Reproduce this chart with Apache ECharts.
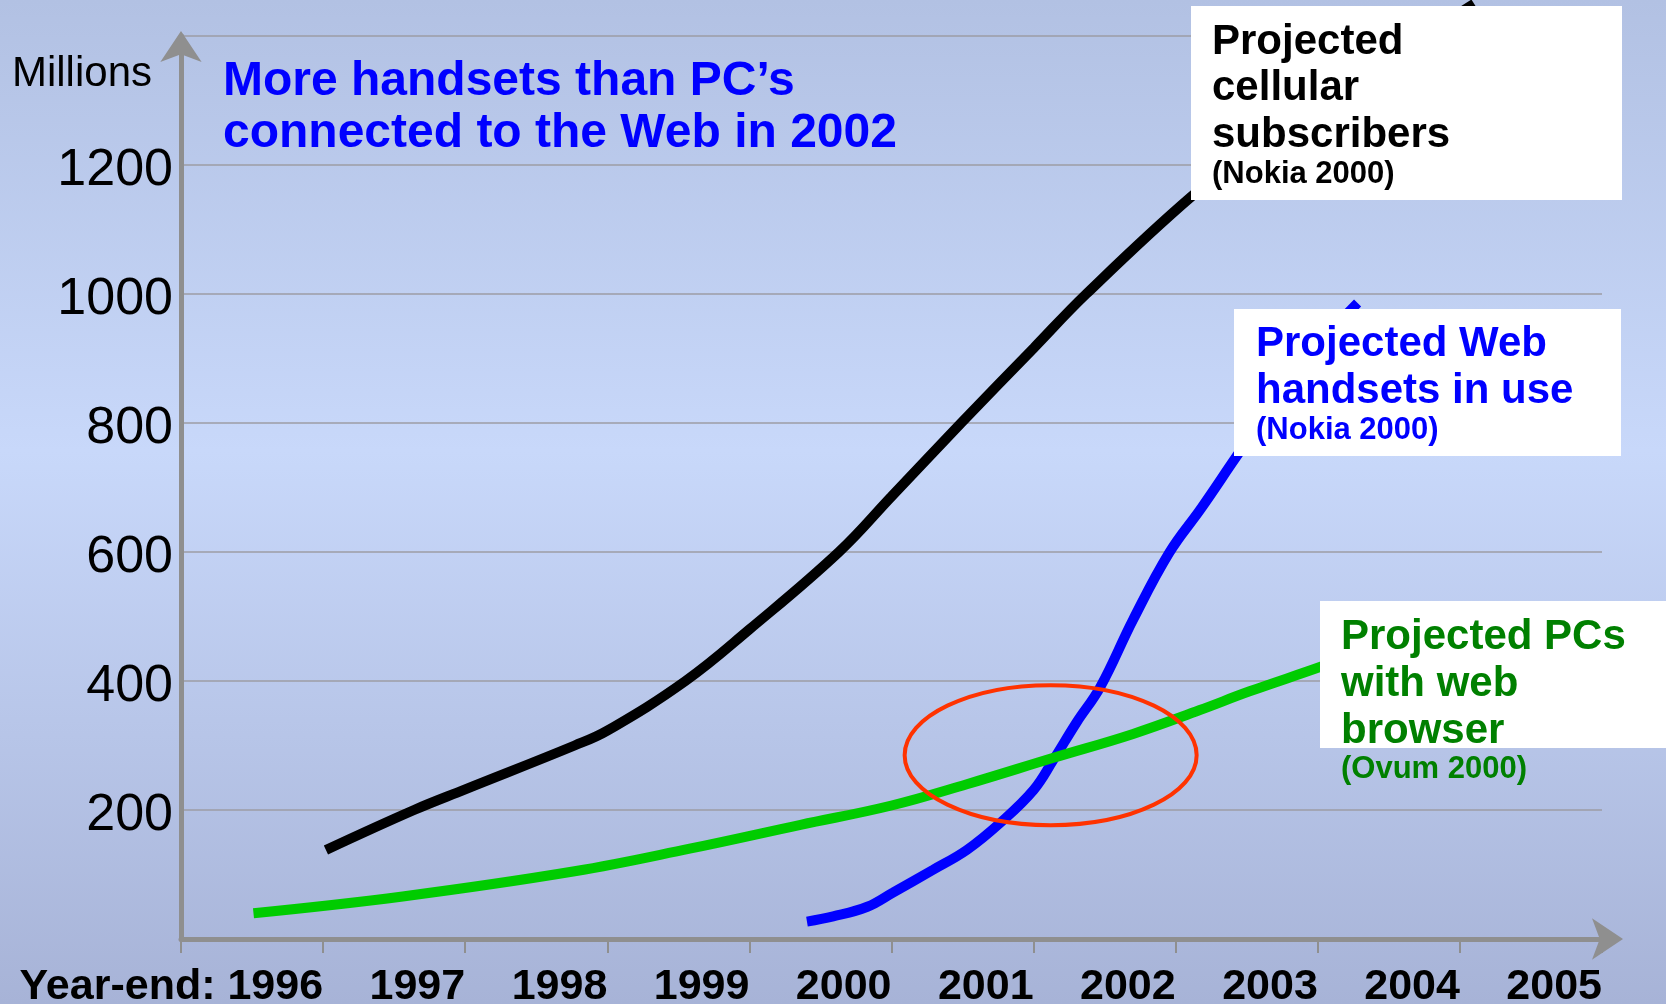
<!DOCTYPE html>
<html><head><meta charset="utf-8">
<script src="https://cdn.jsdelivr.net/npm/echarts@6/dist/echarts.min.js"></script>
<style>html,body{margin:0;padding:0;background:#fff}#c{width:1666px;height:1004px}</style>
</head><body><div id="c"></div>
<script>
// ---- data ----
const yearMin = 1995, yearMax = 2005;
const firstLabelPrefix = 'Year-end: ';
const yLabelValues = [200, 400, 600, 800, 1000, 1200];

const cellYears = [1996.02, 1996.64, 1997.0, 1997.77, 1998.0, 1998.55, 1999.0, 1999.63, 2000.0, 2000.49, 2001.0, 2001.37, 2002.11, 2002.5, 2003.0, 2003.5, 2004.1];
const cellValues = [138, 200, 232, 300, 323, 400, 480, 600, 686, 800, 916, 1000, 1151, 1215, 1290, 1365, 1450];

const webYears = [1999.405, 1999.59, 1999.83, 2000.01, 2000.29, 2000.53, 2000.765, 2001.0, 2001.14, 2001.30, 2001.47, 2001.70, 2001.955, 2002.18, 2002.44, 2002.75, 2003.0, 2003.28];
const webValues = [27, 35, 50, 72, 107, 138, 180, 231, 278, 335, 391, 495, 599, 668, 752, 850, 920, 986];

const pcYears = [1995.51, 1996.56, 1997.77, 1998.58, 1999.36, 2000.0, 2000.53, 2001.14, 2001.70, 2002.17, 2002.52, 2003.02, 2003.3];
const pcValues = [40, 66, 105, 140, 177, 207, 240, 281, 318, 355, 384, 422, 445];

const ringCenter = [2001.12, 285];

const titleLines = ['More handsets than PC\u2019s', 'connected to the Web in 2002'];
const cellLabel = ['Projected', 'cellular', 'subscribers'];
const cellSource = '(Nokia 2000)';
const webLabel = ['Projected Web', 'handsets in use'];
const webSource = '(Nokia 2000)';
const pcLabel = ['Projected PCs', 'with web', 'browser'];
const pcSource = '(Ovum 2000)';

// ---- chart ----
const FONT = '"Liberation Sans", Arial, Helvetica, sans-serif';
const AXIS = '#8f8f8f';
const pairs = (xs, ys) => xs.map((x, i) => [x, ys[i]]);

const chart = echarts.init(document.getElementById('c'), null, {renderer: 'canvas'});

const option = {
  animation: false,
  backgroundColor: {
    type: 'linear', x: 0, y: 0, x2: 0, y2: 1,
    colorStops: [
      {offset: 0, color: '#b2c1e3'},
      {offset: 0.45, color: '#c8d8fa'},
      {offset: 1, color: '#a7b3d7'}
    ]
  },
  title: {
    text: titleLines.join('\n'),
    left: 223, top: 56, padding: 0,
    textStyle: {fontFamily: FONT, fontSize: 48, fontWeight: 'bold', color: '#0000ff', lineHeight: 52}
  },
  grid: {left: 181, right: 64, top: 36, bottom: 65, containLabel: false, outerBoundsMode: 'none'},
  xAxis: {
    type: 'value', min: yearMin, max: yearMax, interval: 1,
    axisLine: {show: true, lineStyle: {color: AXIS, width: 5},
      symbol: ['none', 'arrow'], symbolSize: [31, 31], symbolOffset: [0, 21]},
    axisTick: {show: true, length: 14, lineStyle: {color: AXIS, width: 2}},
    splitLine: {show: false},
    axisLabel: {
      show: true, margin: 27, align: 'right', showMinLabel: true, showMaxLabel: true,
      fontFamily: FONT, fontSize: 43, fontWeight: 'bold', color: '#000',
      formatter: v => v === yearMin ? '' : (v === yearMin + 1 ? firstLabelPrefix + v : String(v))
    }
  },
  yAxis: {
    type: 'value', min: 0, max: 1400, interval: 200,
    name: 'Millions', nameLocation: 'end', nameGap: -38,
    nameTextStyle: {fontFamily: FONT, fontSize: 42, color: '#000', align: 'right', verticalAlign: 'middle', padding: [0, 29, 0, 0]},
    axisLine: {show: true, lineStyle: {color: AXIS, width: 5},
      symbol: ['none', 'arrow'], symbolSize: [31, 31], symbolOffset: [0, 5]},
    axisTick: {show: false},
    splitLine: {show: true, lineStyle: {color: '#9c9ca4', width: 1.5}},
    axisLabel: {
      margin: 8, fontFamily: FONT, fontSize: 52, color: '#000', verticalAlign: 'top', lineHeight: 12,
      formatter: v => yLabelValues.indexOf(v) >= 0 ? String(v) : ''
    }
  },
  series: [
    {type: 'line', name: 'Projected cellular subscribers', data: pairs(cellYears, cellValues),
      smooth: 0.4, showSymbol: false, clip: false,
      lineStyle: {color: '#000000', width: 10, cap: 'butt'}},
    {type: 'line', name: 'Projected Web handsets in use', data: pairs(webYears, webValues),
      smooth: 0.4, showSymbol: false, clip: false,
      lineStyle: {color: '#0000ff', width: 10, cap: 'butt'}},
    {type: 'line', name: 'Projected PCs with web browser', data: pairs(pcYears, pcValues),
      smooth: 0.4, showSymbol: false, clip: false,
      lineStyle: {color: '#00cc00', width: 10, cap: 'butt'}}
  ]
};
chart.setOption(option);

function textEl(id, str, x, y, size, color) {
  return {id: id, type: 'text', z: 110, style: {text: str, x: x, y: y, fill: color,
    fontFamily: FONT, fontSize: size, fontWeight: 'bold', align: 'left', verticalAlign: 'middle'}};
}
function lines(prefix, arr, x, y0, step, size, color) {
  return arr.map((s, i) => textEl(prefix + i, s, x, y0 + i * step, size, color));
}

const rc = chart.convertToPixel({gridIndex: 0}, ringCenter);
const elements = [
  {id: 'ring', type: 'ellipse', z: 105, shape: {cx: rc[0], cy: rc[1], rx: 146, ry: 70},
    style: {fill: 'none', stroke: '#ff3300', lineWidth: 4}},
  {id: 'box1', type: 'rect', z: 100, shape: {x: 1191, y: 6, width: 431, height: 194}, style: {fill: '#ffffff'}},
  {id: 'box2', type: 'rect', z: 100, shape: {x: 1234, y: 309, width: 387, height: 147}, style: {fill: '#ffffff'}},
  {id: 'box3', type: 'rect', z: 100, shape: {x: 1320, y: 601, width: 346, height: 147}, style: {fill: '#ffffff'}}
]
  .concat(lines('c', cellLabel, 1212, 42, 46.5, 42, '#000000'))
  .concat([textEl('cs', cellSource, 1212, 174.5, 31, '#000000')])
  .concat(lines('w', webLabel, 1256, 344.5, 47.3, 42, '#0000ff'))
  .concat([textEl('ws', webSource, 1256, 430, 31, '#0000ff')])
  .concat(lines('p', pcLabel, 1341, 637, 47, 42, '#008000'))
  .concat([textEl('ps', pcSource, 1341, 769, 31, '#008000')]);

chart.setOption({graphic: {elements: elements}});
</script>
</body></html>
